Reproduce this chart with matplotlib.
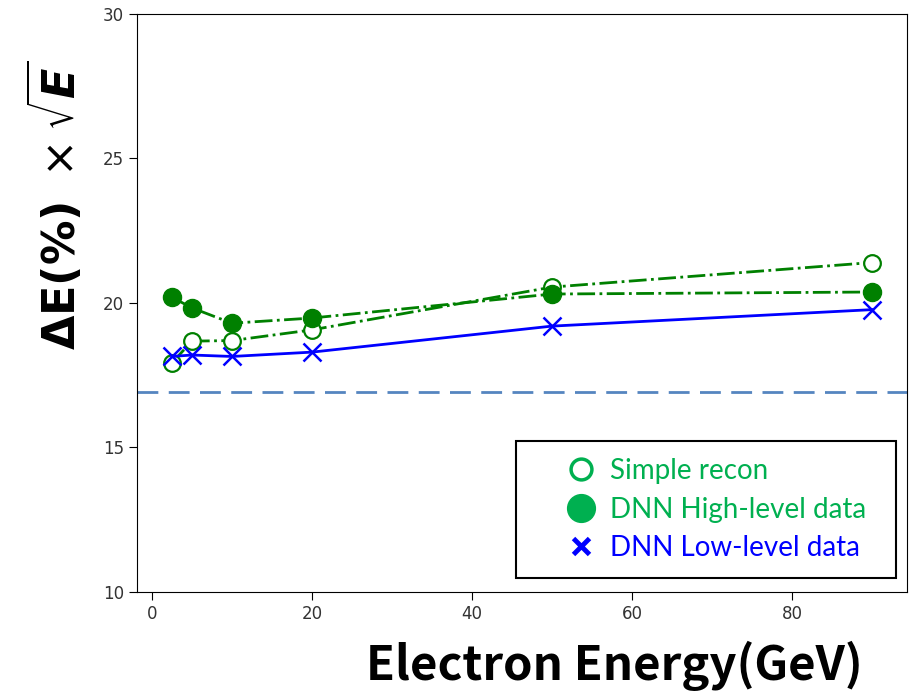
import numpy as np
import matplotlib
matplotlib.use('Agg')
import matplotlib.pyplot as plt
from matplotlib.lines import Line2D
from matplotlib.patches import Rectangle

# Data
energy = [2.5, 5, 10, 20, 50, 90]
simple_recon = [17.93, 18.68, 18.70, 19.07, 20.55, 21.40]
dnn_high = [20.20, 19.83, 19.30, 19.48, 20.31, 20.38]
dnn_low = [18.15, 18.20, 18.15, 18.30, 19.20, 19.77]
ref_level = 16.93
labels = ['Simple recon', 'DNN High-level data', 'DNN Low-level data']

plt.rcParams['mathtext.fontset'] = 'dejavusans'
plt.rcParams['font.family'] = 'DejaVu Sans'

fig = plt.figure(figsize=(9.13, 6.92), dpi=100)
ax = fig.add_axes([0.150, 0.1445, 0.8434, 0.8353])

dark_green = '#008000'
ax.plot(energy, simple_recon, '-.', color=dark_green, lw=2, marker='o',
        ms=12, mfc='white', mec=dark_green, mew=1.6)
ax.plot(energy, dnn_high, '-.', color=dark_green, lw=2, marker='o',
        ms=13, mfc=dark_green, mec=dark_green)
ax.plot(energy, dnn_low, '-', color='#0000ff', lw=2, marker='x',
        ms=13, mew=1.8)
ax.axhline(ref_level, color='#5585c0', lw=2, dashes=(7.5, 3.75))

ax.set_ylim(10, 30)
ax.set_yticks([10, 15, 20, 25, 30])
ax.set_xticks([0, 20, 40, 60, 80])
ax.tick_params(labelsize=12, labelcolor='#333333', length=6)

# Legend box (drawn like a text-box overlay)
ax.add_patch(Rectangle((0.492, 0.024), 0.494, 0.237, transform=ax.transAxes,
                       facecolor='white', edgecolor='black', lw=1.5, zorder=5))
light_green = '#00b050'
handles = [
    Line2D([], [], ls='none', marker='o', ms=15, mfc='white', mec=light_green, mew=2.5),
    Line2D([], [], ls='none', marker='o', ms=20, mfc=light_green, mec=light_green),
    Line2D([], [], ls='none', marker='x', ms=11, mec='#0000ff', mew=3.5),
]
leg = ax.legend(handles, labels, loc='center left',
                bbox_to_anchor=(0.549, 0.1425), borderaxespad=0,
                frameon=False, prop={'family': 'Lato', 'size': 20},
                labelcolor=[light_green, light_green, '#0000ff'],
                handletextpad=0.3, labelspacing=0.45, borderpad=0,
                handlelength=1.5)
leg.set_zorder(6)

fig.text(0.673, 0.037, 'Electron Energy(GeV)', ha='center', va='center',
         fontsize=34, fontweight='bold', family='Noto Sans CJK JP')
fig.text(0.060, 0.704, r'$\mathbf{\Delta E(\%)}\ \times \sqrt{\mathbfit{E}}$',
         rotation=90, ha='center', va='center', fontsize=32)

fig.savefig('out.png', dpi=100)
